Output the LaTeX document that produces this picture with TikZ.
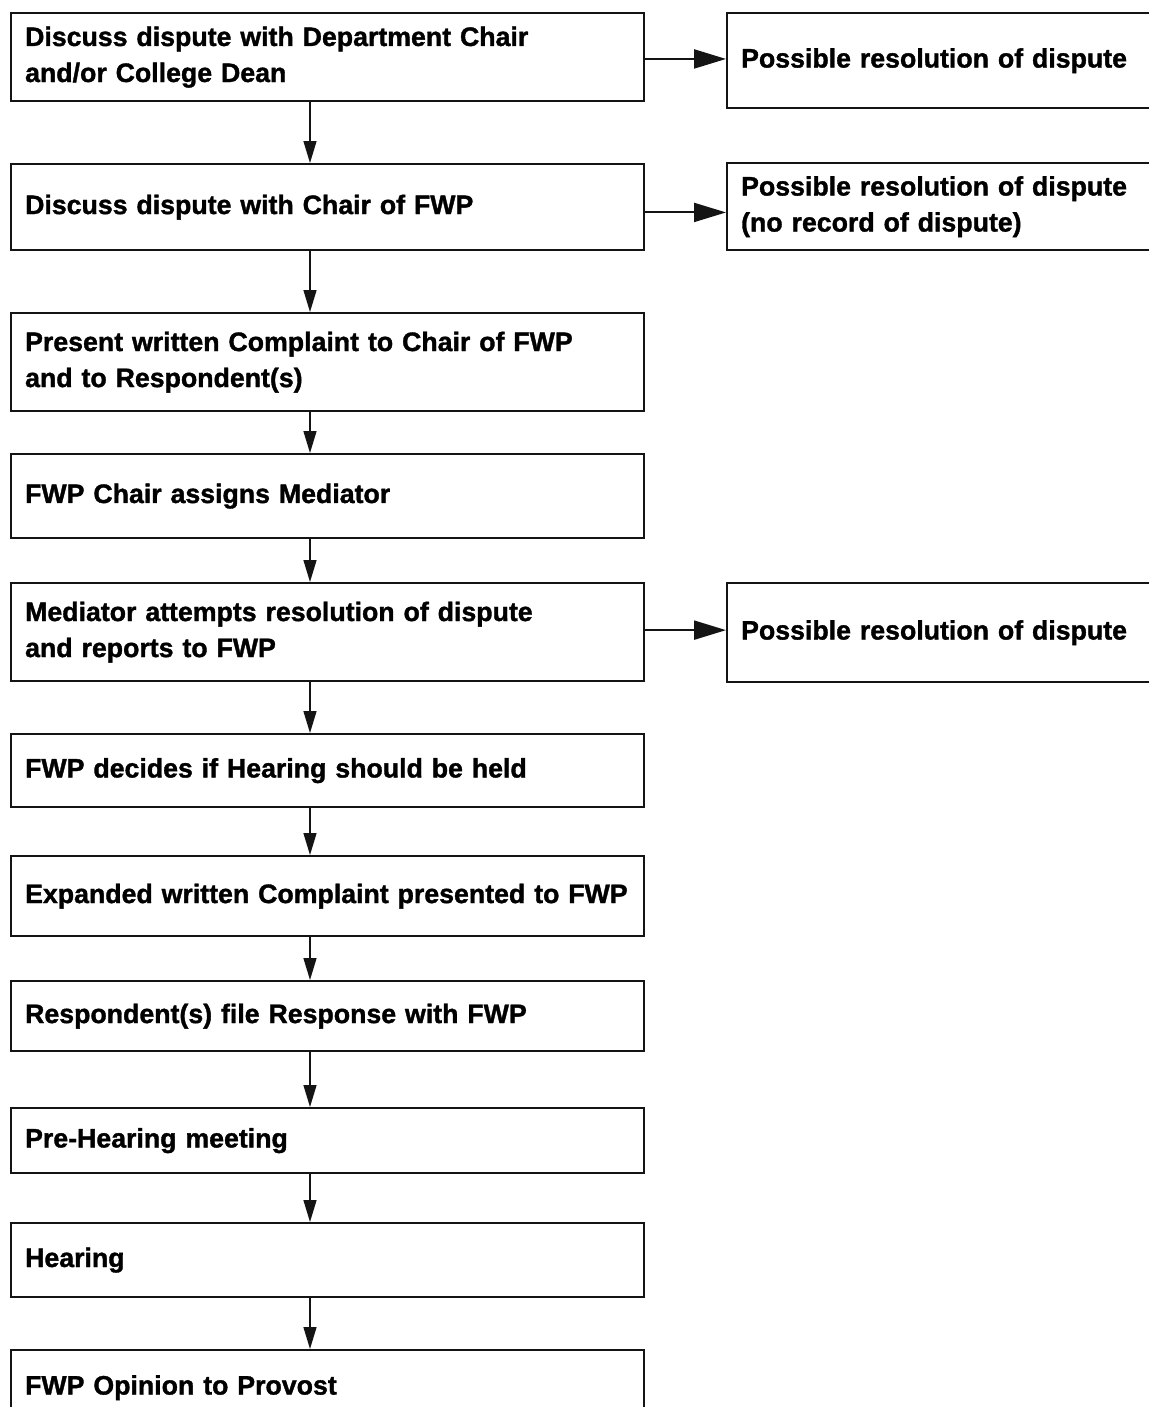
\documentclass[tikz,border=0pt]{standalone}
\usepackage{fontspec}
\setmainfont{Liberation Sans}[BoldFeatures={FakeBold=1.3}]
\usepackage{tikz}
\usetikzlibrary{arrows.meta,positioning,calc}
\definecolor{tinta}{RGB}{20,20,20}

\begin{document}
\begin{tikzpicture}[
  stagebox/.style={draw=tinta,line width=1.3pt,anchor=north west,minimum width=12.66cm,
    text width=12.1cm,align=left,inner xsep=0.28cm,inner ysep=0pt,
    font=\bfseries\fontsize{15.2}{20.5}\selectfont},
  outcome/.style={stagebox,minimum width=8.9cm,text width=8.34cm},
  flow/.style={draw=tinta,line width=0.8pt,-{Triangle[length=0.44cm,width=0.26cm]}},
  side/.style={draw=tinta,line width=1.2pt,-{Triangle[length=0.64cm,width=0.38cm]}}]
\useasboundingbox (0,0) rectangle (22.98,-28.14);
\clip (0,0) rectangle (22.98,-28.14);
\fill[white] (0,0) rectangle (22.98,-28.14);
\coordinate (spine) at (6.2,0);
% main column
\node[stagebox,minimum height=1.76cm] (b1) at (0.2,-0.24)
{Discuss dispute with Department Chair\\and/or College Dean};
\node[stagebox,minimum height=1.72cm] (b2) at (0.2,-3.26)
{Discuss dispute with Chair of FWP};
\node[stagebox,minimum height=1.96cm] (b3) at (0.2,-6.24)
{Present written Complaint to Chair of FWP\\and to Respondent(s)};
\node[stagebox,minimum height=1.68cm] (b4) at (0.2,-9.06)
{FWP Chair assigns Mediator};
\node[stagebox,minimum height=1.96cm] (b5) at (0.2,-11.64)
{Mediator attempts resolution of dispute\\and reports to FWP};
\node[stagebox,minimum height=1.46cm] (b6) at (0.2,-14.66)
{FWP decides if Hearing should be held};
\node[stagebox,minimum height=1.6cm] (b7) at (0.2,-17.1)
{Expanded written Complaint presented to FWP};
\node[stagebox,minimum height=1.4cm] (b8) at (0.2,-19.6)
{Respondent(s) file Response with FWP};
\node[stagebox,minimum height=1.3cm] (b9) at (0.2,-22.14)
{Pre-Hearing meeting};
\node[stagebox,minimum height=1.48cm] (b10) at (0.2,-24.44)
{Hearing};
\node[stagebox,minimum height=1.5cm] (b11) at (0.2,-26.98)
{FWP Opinion to Provost};
% outcomes
\node[outcome,minimum height=1.9cm] (r1) at (14.52,-0.24)
{Possible resolution of dispute};
\node[outcome,minimum height=1.74cm] (r2) at (14.52,-3.24)
{Possible resolution of dispute\\(no record of dispute)};
\node[outcome,minimum height=1.98cm] (r3) at (14.52,-11.64)
{Possible resolution of dispute};
% connectors
\foreach \a/\b in {b1/b2,b2/b3,b3/b4,b4/b5,b5/b6,b6/b7,b7/b8,b8/b9,b9/b10,b10/b11}
  \draw[flow] (\a.south -| spine) -- (\b.north -| spine);
\coordinate (h1) at ($(b1.north east)!0.52!(b1.south east)$);
\coordinate (h2) at ($(b2.north east)!0.56!(b2.south east)$);
\coordinate (h3) at ($(b5.north east)!0.48!(b5.south east)$);
\draw[side] (h1) -- (h1 -| r1.west);
\draw[side] (h2) -- (h2 -| r2.west);
\draw[side] (h3) -- (h3 -| r3.west);
\end{tikzpicture}
\end{document}
